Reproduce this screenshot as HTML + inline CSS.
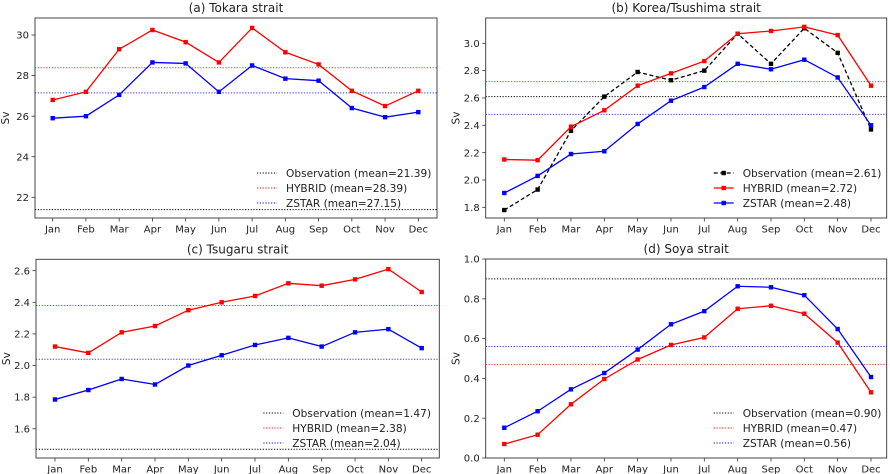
<!DOCTYPE html>
<html><head><meta charset="utf-8"><style>
html,body{margin:0;padding:0;background:#fff;}
svg{display:block;font-family:"DejaVu Sans","Liberation Sans",sans-serif;}
</style></head><body>
<svg id="fig" width="890" height="474" viewBox="0 0 890 474" xmlns="http://www.w3.org/2000/svg"></svg>
<script>
const months = ["Jan","Feb","Mar","Apr","May","Jun","Jul","Aug","Sep","Oct","Nov","Dec"];
// (a) Tokara
const aHybrid = [26.8,27.2,29.3,30.25,29.65,28.65,30.35,29.15,28.55,27.25,26.5,27.25];
const aZstar = [25.9,26.0,27.05,28.65,28.6,27.2,28.5,27.85,27.75,26.4,25.95,26.2];
const aMeans = [21.39,28.39,27.15];
const aTicks = [22,24,26,28,30];
// (b) Korea/Tsushima
const bObs = [1.78,1.93,2.36,2.61,2.79,2.73,2.80,3.07,2.85,3.11,2.93,2.37];
const bHybrid = [2.15,2.145,2.39,2.51,2.69,2.78,2.87,3.07,3.09,3.12,3.06,2.69];
const bZstar = [1.905,2.03,2.19,2.21,2.41,2.58,2.68,2.85,2.81,2.88,2.75,2.40];
const bMeans = [2.61,2.72,2.48];
const bTicks = [1.8,2.0,2.2,2.4,2.6,2.8,3.0];
// (c) Tsugaru
const cHybrid = [2.12,2.08,2.21,2.25,2.35,2.40,2.44,2.52,2.505,2.545,2.61,2.465];
const cZstar = [1.785,1.845,1.915,1.88,2.0,2.065,2.13,2.175,2.12,2.21,2.23,2.11];
const cMeans = [1.47,2.38,2.04];
const cTicks = [1.6,1.8,2.0,2.2,2.4,2.6];
// (d) Soya
const dHybrid = [0.07,0.117,0.27,0.397,0.495,0.568,0.606,0.75,0.765,0.725,0.58,0.33];
const dZstar = [0.152,0.235,0.345,0.427,0.545,0.672,0.738,0.863,0.858,0.818,0.648,0.407];
const dMeans = [0.90,0.47,0.56];
const dTicks = [0.0,0.2,0.4,0.6,0.8,1.0];

const NS="http://www.w3.org/2000/svg";
const fig=document.getElementById('fig');
function mk(tag,attrs,parent){const e=document.createElementNS(NS,tag);for(const k in attrs)e.setAttribute(k,attrs[k]);(parent||fig).appendChild(e);return e;}

function panel(cfg){
  const g=mk('g',{});
  
  
  const L=cfg.box[0],T=cfg.box[1],R=cfg.box[2],B=cfg.box[3];
  const x0=cfg.xr[0],x1=cfg.xr[1];
  const xs=i=>x0+(x1-x0)*i/11;
  const ys=v=>B-(v-cfg.yl[0])/(cfg.yl[1]-cfg.yl[0])*(B-T);
  const t=mk('text',{x:(L+R)/2,y:T-6,'text-anchor':'middle','font-size':'12',fill:'#222'},g);
  t.textContent=cfg.title;
  
  
  const yl=mk('text',{x:0,y:0,transform:`translate(${L-26},${(T+B)/2}) rotate(-90)`,'text-anchor':'middle','font-size':'10.5',fill:'#222'},g);
  yl.textContent='Sv';
  
  
  cfg.ticks.forEach(v=>{
    const y=ys(v);
    mk('line',{x1:L-3.5,x2:L,y1:y,y2:y,stroke:'#333','stroke-width':0.8},g);
    const tl=mk('text',{x:L-6,y:y+3.6,'text-anchor':'end','font-size':'10',fill:'#222'},g);
    tl.textContent=cfg.dec?v.toFixed(1):String(v);
    
    
  });
  months.forEach((m,i)=>{
    const x=xs(i);
    mk('line',{x1:x,x2:x,y1:B,y2:B+3.5,stroke:'#333','stroke-width':0.8},g);
    const tl=mk('text',{x:x,y:B+14.5,'text-anchor':'middle','font-size':'10',fill:'#222'},g);
    tl.textContent=m;
    
    
  });
  const cols=['#000','#ff0000','#0000ff'];
  cfg.means.forEach((v,k)=>{
    const ln=mk('line',{x1:L,x2:R,y1:ys(v),y2:ys(v),stroke:cols[k],'stroke-width':1,'stroke-dasharray':'1.2,1.6',opacity:k?0.8:1},g);
    
    
  });
  cfg.series.forEach(s=>{
    const pts=s.data.map((v,i)=>xs(i)+','+ys(v)).join(' ');
    const pl=mk('polyline',{points:pts,fill:'none',stroke:s.color,'stroke-width':1.3,'stroke-dasharray':s.dash||'none'},g);
    
    
    s.data.forEach((v,i)=>{
      const r=mk('rect',{x:xs(i)-2.2,y:ys(v)-2.2,width:4.4,height:4.4,fill:s.color},g);
      
      
    });
  });
  mk('rect',{x:L,y:T,width:R-L,height:B-T,fill:'none',stroke:'#333','stroke-width':0.9},g);
  const lx=R-cfg.legOff;
  cfg.legend.forEach((e,k)=>{
    const y=B-45+k*15;
    const lg=mk('g',{},g);
    
    
    if(e.solid){
      mk('line',{x1:lx,x2:lx+20,y1:y,y2:y,stroke:e.color,'stroke-width':1.3,'stroke-dasharray':e.dash||'none'},lg);
      mk('rect',{x:lx+10-2.2,y:y-2.2,width:4.4,height:4.4,fill:e.color},lg);
    } else {
      mk('line',{x1:lx,x2:lx+20,y1:y,y2:y,stroke:e.color,'stroke-width':1,'stroke-dasharray':'1.2,1.6'},lg);
    }
    const tx=mk('text',{x:lx+29,y:y+3.8,'font-size':'10.6',fill:'#222'},lg);
    tx.textContent=e.label;
  });
}

panel({name:'panel-tokara',title:'(a) Tokara strait',box:[35,18,437,218],xr:[52.7,418.3],yl:[20.98,30.84],ticks:aTicks,dec:false,legOff:180,
  means:aMeans,
  series:[{id:'hybrid',data:aHybrid,color:'#ff0000'},{id:'zstar',data:aZstar,color:'#0000ff'}],
  legend:[{label:'Observation (mean='+aMeans[0].toFixed(2)+')',color:'#000'},{label:'HYBRID (mean='+aMeans[1].toFixed(2)+')',color:'#ff0000'},{label:'ZSTAR (mean='+aMeans[2].toFixed(2)+')',color:'#0000ff'}]});
panel({name:'panel-korea-tsushima',title:'(b) Korea/Tsushima strait',box:[485.7,18,886.7,218],xr:[504.3,871],yl:[1.722,3.185],ticks:bTicks,dec:true,legOff:173,
  means:bMeans,
  series:[{id:'observation',data:bObs,color:'#000',dash:'4,2.5'},{id:'hybrid',data:bHybrid,color:'#ff0000'},{id:'zstar',data:bZstar,color:'#0000ff'}],
  legend:[{label:'Observation (mean='+bMeans[0].toFixed(2)+')',color:'#000',solid:true,dash:'4,2.5'},{label:'HYBRID (mean='+bMeans[1].toFixed(2)+')',color:'#ff0000',solid:true},{label:'ZSTAR (mean='+bMeans[2].toFixed(2)+')',color:'#0000ff',solid:true}]});
panel({name:'panel-tsugaru',title:'(c) Tsugaru strait',box:[36,259.3,439.3,458],xr:[55,421.7],yl:[1.415,2.672],ticks:cTicks,dec:true,legOff:176,
  means:cMeans,
  series:[{id:'hybrid',data:cHybrid,color:'#ff0000'},{id:'zstar',data:cZstar,color:'#0000ff'}],
  legend:[{label:'Observation (mean='+cMeans[0].toFixed(2)+')',color:'#000'},{label:'HYBRID (mean='+cMeans[1].toFixed(2)+')',color:'#ff0000'},{label:'ZSTAR (mean='+cMeans[2].toFixed(2)+')',color:'#0000ff'}]});
panel({name:'panel-soya',title:'(d) Soya strait',box:[485.7,259,886.7,458],xr:[504.3,871],yl:[0,1.0],ticks:dTicks,dec:true,legOff:173,
  means:dMeans,
  series:[{id:'hybrid',data:dHybrid,color:'#ff0000'},{id:'zstar',data:dZstar,color:'#0000ff'}],
  legend:[{label:'Observation (mean='+dMeans[0].toFixed(2)+')',color:'#000'},{label:'HYBRID (mean='+dMeans[1].toFixed(2)+')',color:'#ff0000'},{label:'ZSTAR (mean='+dMeans[2].toFixed(2)+')',color:'#0000ff'}]});
</script>
</body></html>
